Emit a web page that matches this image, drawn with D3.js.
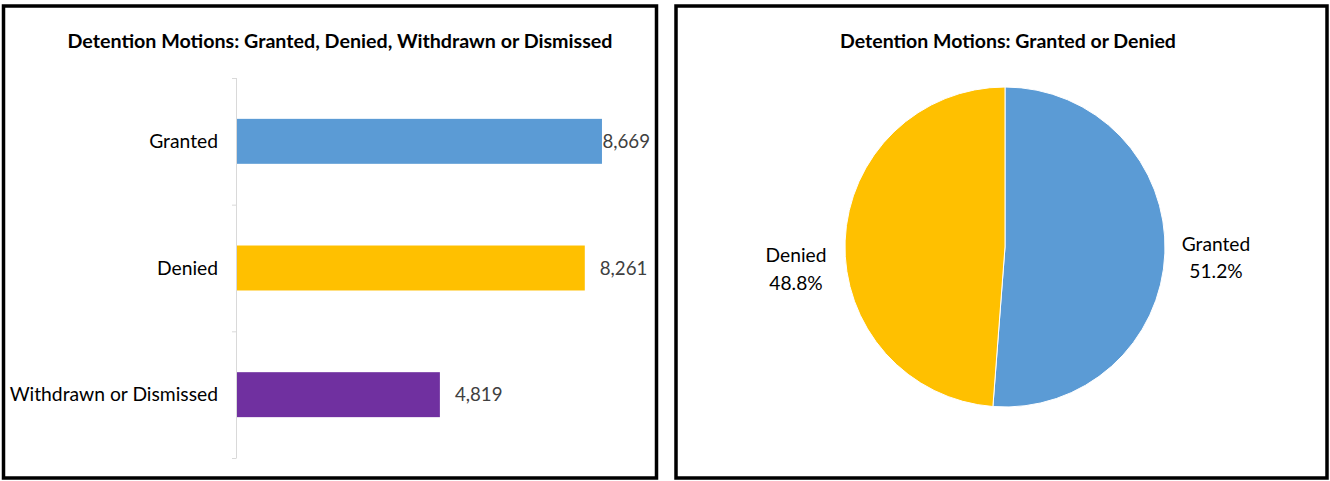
<!DOCTYPE html>
<html>
<head>
<meta charset="utf-8">
<script src="https://cdn.jsdelivr.net/npm/d3@7"></script>
<style>
html,body{margin:0;padding:0;background:#fff;}
svg{display:block;font-family:Lato,"Open Sans",sans-serif;}
</style>
</head>
<body>
<svg id="chart" width="1330" height="481"></svg>
<script>
// ---- data ----
const barTitle = "Detention Motions: Granted, Denied, Withdrawn or Dismissed";
const pieTitle = "Detention Motions: Granted or Denied";
const barCategories = ["Granted", "Denied", "Withdrawn or Dismissed"];
const barValues = [8669, 8261, 4819];
const barColors = ["#5B9BD5", "#FFC000", "#7030A0"];
const pieCategories = ["Granted", "Denied"];
const pieValues = [8669, 8261];
const pieColors = ["#5B9BD5", "#FFC000"];

const svg = d3.select("#chart");

// fit a text element to a target width by adjusting font-size
function fitWidth(sel, target) {
  const node = sel.node();
  const fs = parseFloat(sel.attr("font-size"));
  const w = node.getComputedTextLength();
  if (w > 0) sel.attr("font-size", (fs * target / w).toFixed(2));
}

// ---- panels ----
svg.append("rect").attr("x", 3.5).attr("y", 6).attr("width", 653).attr("height", 472)
  .attr("fill", "#fff").attr("stroke", "#000").attr("stroke-width", 3.5);
svg.append("rect").attr("x", 676).attr("y", 6).attr("width", 651).attr("height", 472)
  .attr("fill", "#fff").attr("stroke", "#000").attr("stroke-width", 3.5);

// ---- bar chart ----
const bt = svg.append("text").attr("x", 340).attr("y", 48).attr("text-anchor", "middle")
  .attr("font-weight", "bold").attr("font-size", 16).attr("fill", "#000").text(barTitle);
fitWidth(bt, 545);

const plotTop = 78, plotBottom = 458, axisX = 237;
const yBand = d3.scaleBand().domain(barCategories).range([plotTop, plotBottom]).padding(0);
const yBar = d3.scaleBand().domain(barCategories).range([plotTop, plotBottom])
  .paddingInner(0.645).paddingOuter(0.3225);
const x = d3.scaleLinear().domain([0, 10000]).range([axisX, axisX + 421]);

const gBar = svg.append("g");
gBar.append("line").attr("x1", axisX - 0.5).attr("x2", axisX - 0.5)
  .attr("y1", plotTop).attr("y2", plotBottom).attr("stroke", "#d9d9d9").attr("stroke-width", 1);
const tickYs = barCategories.map(c => yBand(c)).concat([plotBottom]);
gBar.selectAll(".tk").data(tickYs).join("line")
  .attr("x1", axisX - 5).attr("x2", axisX - 0.5)
  .attr("y1", d => d + 0.5).attr("y2", d => d + 0.5)
  .attr("stroke", "#d9d9d9").attr("stroke-width", 1);

gBar.selectAll(".bar").data(barValues).join("rect")
  .attr("x", x(0)).attr("y", (d, i) => yBar(barCategories[i]))
  .attr("width", d => x(d) - x(0)).attr("height", yBar.bandwidth())
  .attr("fill", (d, i) => barColors[i]);

gBar.selectAll(".cat").data(barCategories).join("text")
  .attr("x", 218).attr("y", d => yBand(d) + yBand.bandwidth() / 2)
  .attr("dy", "0.35em").attr("text-anchor", "end")
  .attr("font-size", 19.3).attr("fill", "#000").text(d => d);

const fmt = d3.format(",");
const labelRight = 650;
gBar.selectAll(".val").data(barValues).join("text")
  .attr("y", (d, i) => yBand(barCategories[i]) + yBand.bandwidth() / 2)
  .attr("dy", "0.35em").attr("font-size", 18.7).attr("fill", "#404040")
  .text(d => fmt(d))
  .each(function(d) {
    const w = this.getComputedTextLength();
    const xx = Math.min(x(d) + 15, labelRight - w);
    d3.select(this).attr("x", xx);
  });

// ---- pie chart ----
const pt = svg.append("text").attr("x", 1008).attr("y", 48).attr("text-anchor", "middle")
  .attr("font-weight", "bold").attr("font-size", 16).attr("fill", "#000").text(pieTitle);
fitWidth(pt, 336);

const cx = 1005, cy = 247, r = 160;
const pie = d3.pie().sort(null).value(d => d)(pieValues);
const arc = d3.arc().innerRadius(0).outerRadius(r);
const gPie = svg.append("g").attr("transform", `translate(${cx},${cy})`);
gPie.selectAll("path").data(pie).join("path")
  .attr("d", arc).attr("fill", (d, i) => pieColors[i])
  .attr("stroke", "#fff").attr("stroke-width", 1);

const total = d3.sum(pieValues);
const pctFmt = d3.format(".1%");
pie.forEach((p, i) => {
  const mid = (p.startAngle + p.endAngle) / 2;
  const side = Math.sin(mid) >= 0 ? 1 : -1;
  const lx = side > 0 ? r + 51 : -(r + 49);
  // Excel's best-fit placement: right label near centre line, left label lower
  const ly = -Math.cos(mid) * (r + 50) + (side > 0 ? 2 : 29);
  const t = gPie.append("text").attr("text-anchor", "middle")
    .attr("font-size", 19.2).attr("fill", "#000")
    .attr("x", lx).attr("y", ly);
  t.append("tspan").attr("x", lx).attr("dy", "-0.33em").text(pieCategories[i]);
  t.append("tspan").attr("x", lx).attr("dy", "1.45em").text(pctFmt(pieValues[i] / total));
});
</script>
</body>
</html>
